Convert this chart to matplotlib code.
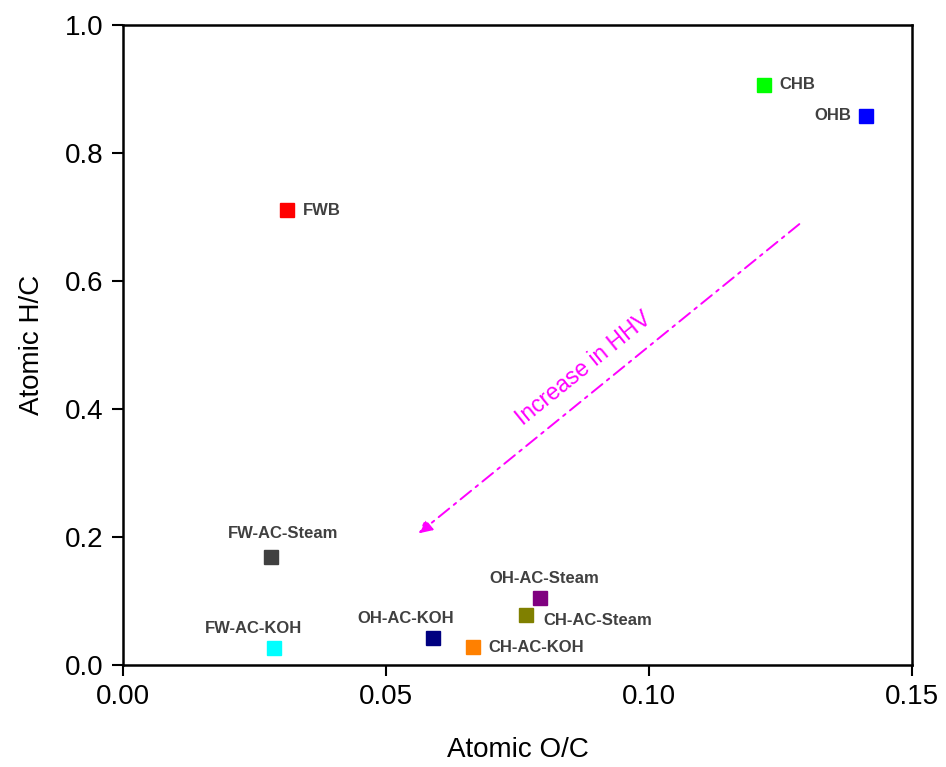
import matplotlib
matplotlib.use("Agg")
import matplotlib.pyplot as plt

plt.rcParams['font.family'] = ['Liberation Sans', 'DejaVu Sans']

names = ["FWB", "CHB", "OHB", "FW-AC-Steam", "FW-AC-KOH", "OH-AC-KOH",
         "CH-AC-KOH", "CH-AC-Steam", "OH-AC-Steam"]
oc = [0.0312, 0.1218, 0.1412, 0.0282, 0.0287, 0.0590, 0.0666, 0.0767, 0.0792]
hc = [0.711, 0.906, 0.859, 0.169, 0.027, 0.042, 0.028, 0.078, 0.105]
colors = ["#ff0000", "#00ff00", "#0000ff", "#404040", "#00ffff", "#000080",
          "#ff8000", "#808000", "#800080"]
# label offsets in pixels (dx, dy) and alignment
offsets = [(16, 0, 'left', 'center'), (16, 1, 'left', 'center'), (-14, 0, 'right', 'center'),
           (12, 16, 'center', 'bottom'), (-20, 12, 'center', 'bottom'), (-28, 12, 'center', 'bottom'),
           (15, 0, 'left', 'center'), (17, -5, 'left', 'center'), (5, 12, 'center', 'bottom')]

fig = plt.figure(figsize=(9.46, 7.67), dpi=100)
ax = fig.add_axes([0.130, 0.133, 0.834, 0.834])

for x, y, c, n, (dx, dy, ha, va) in zip(oc, hc, colors, names, offsets):
    ax.plot([x], [y], marker='s', markersize=9.5, color=c, linestyle='none')
    ax.annotate(n, (x, y), xytext=(dx, dy), textcoords='offset pixels',
                ha=ha, va=va, fontsize=12, fontweight='bold', color='#404040')

arrow_start = (0.129, 0.692)
arrow_end = (0.0558, 0.203)
ax.annotate('', xy=arrow_end, xytext=arrow_start,
            arrowprops=dict(arrowstyle='-|>', color='#ff00ff', lw=1.4,
                            linestyle=(0, (7, 3, 1.5, 3)), mutation_scale=20))
ax.text(0.0875, 0.464, 'Increase in HHV', color='#ff00ff', fontsize=16.5,
        rotation=39, ha='center', va='center', rotation_mode='anchor')

ax.set_xlim(0, 0.15)
ax.set_ylim(0, 1.0)
ax.set_xticks([0.00, 0.05, 0.10, 0.15])
ax.set_xticklabels(["0.00", "0.05", "0.10", "0.15"])
ax.set_yticks([0.0, 0.2, 0.4, 0.6, 0.8, 1.0])
ax.set_yticklabels(["0.0", "0.2", "0.4", "0.6", "0.8", "1.0"])
ax.tick_params(direction='out', length=8, width=1.5, labelsize=20, pad=6)
for s in ax.spines.values():
    s.set_linewidth(1.8)
ax.set_xlabel('Atomic O/C', fontsize=20, labelpad=19)
ax.set_ylabel('Atomic H/C', fontsize=20, labelpad=14)

fig.savefig('out.png', dpi=100)
